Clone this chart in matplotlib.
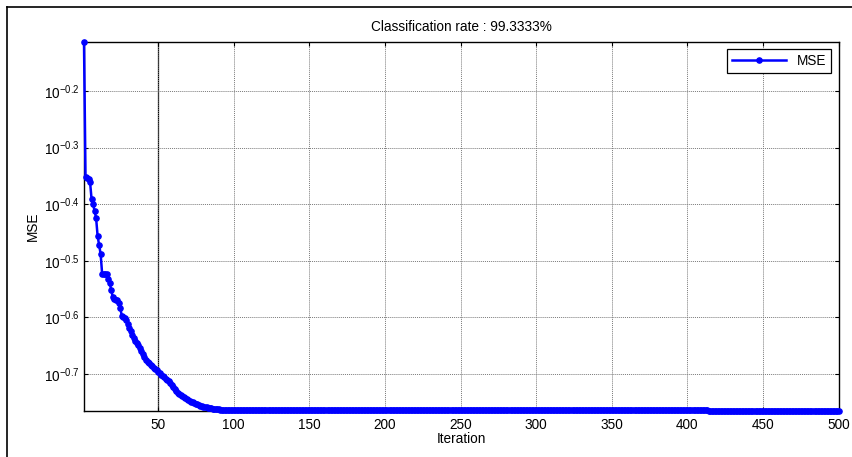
import numpy as np
import matplotlib
matplotlib.use("Agg")
import matplotlib.pyplot as plt
from matplotlib.ticker import FixedLocator, FixedFormatter, NullLocator
from matplotlib.lines import Line2D

plt.rcParams['font.family'] = ['Liberation Sans', 'DejaVu Sans']
plt.rcParams['mathtext.default'] = 'regular'

# log10(MSE) for iterations 1..94
log_mse_head = [
    -0.1134, -0.3519, -0.3537, -0.3555, -0.3608, -0.3908, -0.3996, -0.4120, -0.4244, -0.4562,
    -0.4721, -0.4880, -0.5233, -0.5233, -0.5233, -0.5233, -0.5322, -0.5392, -0.5516, -0.5640,
    -0.5675, -0.5684, -0.5701, -0.5746, -0.5834, -0.5975, -0.5993, -0.6011, -0.6046, -0.6117,
    -0.6187, -0.6240, -0.6311, -0.6364, -0.6417, -0.6452, -0.6488, -0.6541, -0.6594, -0.6647,
    -0.6700, -0.6753, -0.6779, -0.6806, -0.6832, -0.6859, -0.6885, -0.6903, -0.6929, -0.6956,
    -0.6982, -0.7009, -0.7035, -0.7053, -0.7080, -0.7106, -0.7124, -0.7159, -0.7194, -0.7230,
    -0.7265, -0.7300, -0.7327, -0.7353, -0.7371, -0.7389, -0.7406, -0.7424, -0.7442, -0.7459,
    -0.7468, -0.7486, -0.7495, -0.7512, -0.7521, -0.7530, -0.7548, -0.7557, -0.7565, -0.7574,
    -0.7583, -0.7583, -0.7592, -0.7601, -0.7601, -0.7610, -0.7610, -0.7618, -0.7618, -0.7618,
    -0.7627, -0.7627, -0.7627, -0.7627,
]
plateau_level = -0.7633   # iterations 95..413
plateau_count = 319
final_level = -0.7648     # iterations 414..500
final_count = 87

x_ticks = [50, 100, 150, 200, 250, 300, 350, 400, 450, 500]
y_tick_exps = [-0.7, -0.6, -0.5, -0.4, -0.3, -0.2]
y_tick_labels = ['$10^{-0.7}$', '$10^{-0.6}$', '$10^{-0.5}$', '$10^{-0.4}$', '$10^{-0.3}$', '$10^{-0.2}$']
title = 'Classification rate : 99.3333%'

log_mse = np.array(log_mse_head + [plateau_level] * plateau_count + [final_level] * final_count)
mse = 10.0 ** log_mse
iters = np.arange(1, len(mse) + 1)

FS = 9.8

W, H = 853, 457
fig = plt.figure(figsize=(W / 100, H / 100), dpi=100)
fig.patch.set_facecolor('white')

# outer frame lines (top and left)
fig.add_artist(Line2D([7 / W, 1.0], [1 - 7 / H, 1 - 7 / H], transform=fig.transFigure, color='black', lw=1.2))
fig.add_artist(Line2D([7 / W, 7 / W], [0.0, 1 - 7 / H], transform=fig.transFigure, color='black', lw=1.2))

ax = fig.add_axes([84 / W, 1 - 410.7 / H, (838.7 - 84) / W, (410.7 - 42) / H])
ax.plot(iters, mse, '-', color=(0, 0, 1), lw=1.8, marker='.', markersize=7.5, label='MSE', zorder=3,
        clip_on=False)
ax.set_yscale('log')
ax.set_xlim(1, 500)
ax.set_ylim(mse.min(), mse.max())

ax.xaxis.set_major_locator(FixedLocator(x_ticks))
ax.yaxis.set_major_locator(FixedLocator([10 ** e for e in y_tick_exps]))
ax.yaxis.set_major_formatter(FixedFormatter(y_tick_labels))
ax.yaxis.set_minor_locator(NullLocator())
ax.xaxis.set_minor_locator(NullLocator())

ax.tick_params(direction='in', length=3, width=0.8, top=True, right=True, labelsize=FS, colors='black')
ax.tick_params(axis='x', pad=5)
ax.tick_params(axis='y', pad=3)
ax.grid(True, which='major', color='#7a7a7a', linestyle=(0, (1, 1)), linewidth=0.7)
ax.axvline(50, color='black', lw=0.9, zorder=1)
for s in ax.spines.values():
    s.set_linewidth(1.0)
    s.set_color('black')

ax.set_title(title, fontsize=FS, pad=8)
ax.set_xlabel('Iteration', fontsize=FS, labelpad=0)
ax.set_ylabel('MSE', fontsize=FS, labelpad=3)

leg = ax.legend(loc='upper right', fontsize=FS, fancybox=False, framealpha=1, edgecolor='black',
                borderaxespad=0.55, handlelength=4.0, borderpad=0.35, handletextpad=0.8)
leg.get_frame().set_linewidth(0.9)

fig.savefig('out.png', dpi=100)
